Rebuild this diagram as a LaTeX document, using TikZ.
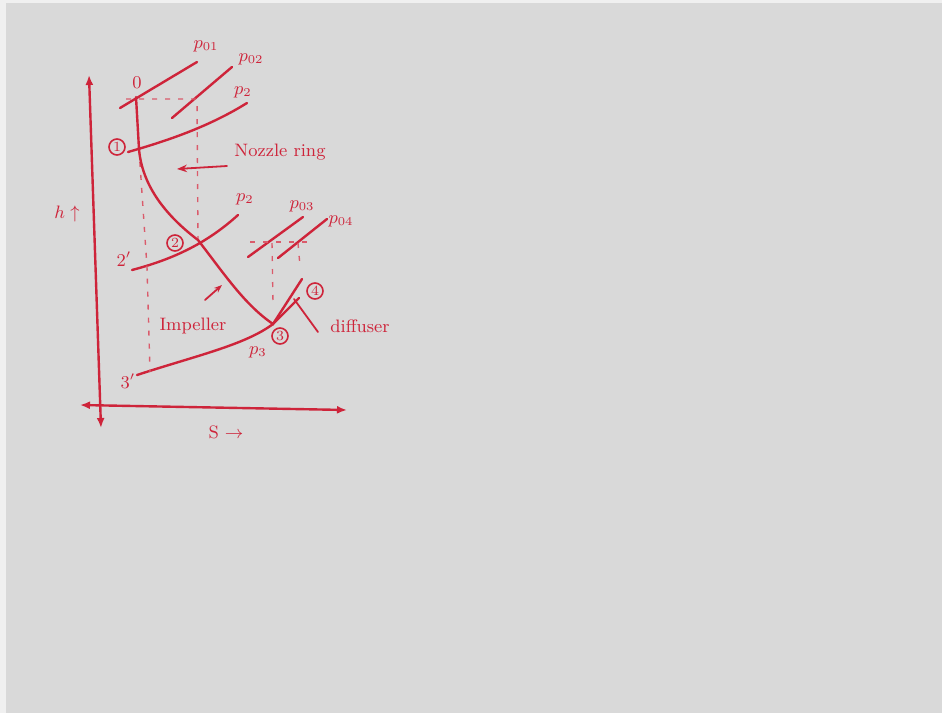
\documentclass[tikz,border=0pt]{standalone}
\usetikzlibrary{arrows.meta}
\definecolor{inkred}{RGB}{206,36,58}
\definecolor{boardgrey}{RGB}{217,217,217}

\begin{document}
\begin{tikzpicture}[x=0.5pt, y=-0.5pt,
  ink/.style={draw=inkred, line width=1.2pt, line cap=round},
  thin ink/.style={draw=inkred, line width=0.9pt, line cap=round},
  guide/.style={draw=inkred!75, line width=0.7pt, dash pattern=on 2.5pt off 4pt},
  axis/.style={ink, {Latex[length=5pt,width=4pt]}-{Latex[length=5pt,width=4pt]}},
  lbl/.style={text=inkred, font=\small, inner sep=1pt},
  state/.style={circle, draw=inkred, line width=0.8pt, text=inkred,
    font=\scriptsize, inner sep=0.6pt, minimum size=8pt},
]
% board
\fill[white!60!boardgrey] (0,0) rectangle (942,713);
\useasboundingbox (0,0) rectangle (942,713);
\fill[boardgrey] (6,3) rectangle (942,713);

% ---- axes ----
\coordinate (hTop) at (89,75);
\coordinate (hBot) at (101,428);
\coordinate (sLeft) at (80,405);
\coordinate (sRight) at (347,410);
\draw[axis] (hBot) -- (hTop);
\draw[axis] (sLeft) -- (sRight);
\node[lbl] (hlbl) at (67,214) {$h\uparrow$};
\node[lbl] (slbl) at (226,432) {S $\rightarrow$};

% ---- states ----
\coordinate (s0) at (136,97);
\coordinate (s1) at (139,149);
\coordinate (s2) at (198,240);
\coordinate (s3) at (273,324);
\coordinate (s4) at (302,279);
\coordinate (s02) at (197,99);
\coordinate (s2p) at (147,267);
\coordinate (s3p) at (150,372);
\coordinate (s03) at (272,243);
\coordinate (s04) at (298,243);

% ---- constant pressure lines ----
\draw[ink] (120,108) -- (197,62);
\draw[ink] (172,118) -- (232,67);
\draw[ink] (128,152) .. controls (170,140) and (210,126) .. (247,103);
\draw[ink] (132,270) .. controls (170,260) and (205,245) .. (238,215);
\draw[ink] (248,257) -- (303,217);
\draw[ink] (278,258) -- (327,219);
\draw[ink] (137,375) .. controls (195,356) and (245,345) .. (s3)
  .. controls (282,315) and (291,306) .. (299,298);

\node[lbl] (p01) at (206,46) {$p_{01}$};
\node[lbl] (p02) at (251,59) {$p_{02}$};
\node[lbl] (p2a) at (243,92) {$p_2$};
\node[lbl] (p2b) at (245,199) {$p_2$};
\node[lbl] (p03) at (302,206) {$p_{03}$};
\node[lbl] (p04) at (341,221) {$p_{04}$};
\node[lbl] (p3) at (258,352) {$p_3$};

% ---- guide lines ----
\draw[guide] (126,99) -- (s02) -- (s2);
\draw[guide] (s1) -- (s2p) -- (s3p);
\draw[guide] (250,242) -- (307,242);
\draw[guide] (s03) -- (273,302);
\draw[guide] (s04) -- (300,266);

% ---- process ----
\draw[ink] (s0) -- (s1) .. controls (142,185) and (165,215) .. (s2)
  .. controls (225,275) and (245,305) .. (s3) -- (s4);

% ---- state labels ----
\node[lbl] (n0) at (137,83) {0};
\node[state] (c1) at (117,147) {1};
\node[state] (c2) at (175,243) {2};
\node[state] (c3) at (280,336) {3};
\node[state] (c4) at (315,291) {4};
\node[lbl] (n2p) at (124,259) {$2'$};
\node[lbl] (n3p) at (128,381) {$3'$};

% ---- annotations ----
\node[lbl] (nozzle) at (280,152) {Nozzle ring};
\draw[thin ink, -{Stealth[length=5pt]}] (227,166) -- (177,169);
\node[lbl] (imp) at (193,326) {Impeller};
\draw[thin ink, -{Stealth[length=4pt]}] (205,300) -- (222,285);
\node[lbl] (diff) at (360,326) {diffuser};
\draw[thin ink] (294,299) -- (318,332);
\end{tikzpicture}
\end{document}
